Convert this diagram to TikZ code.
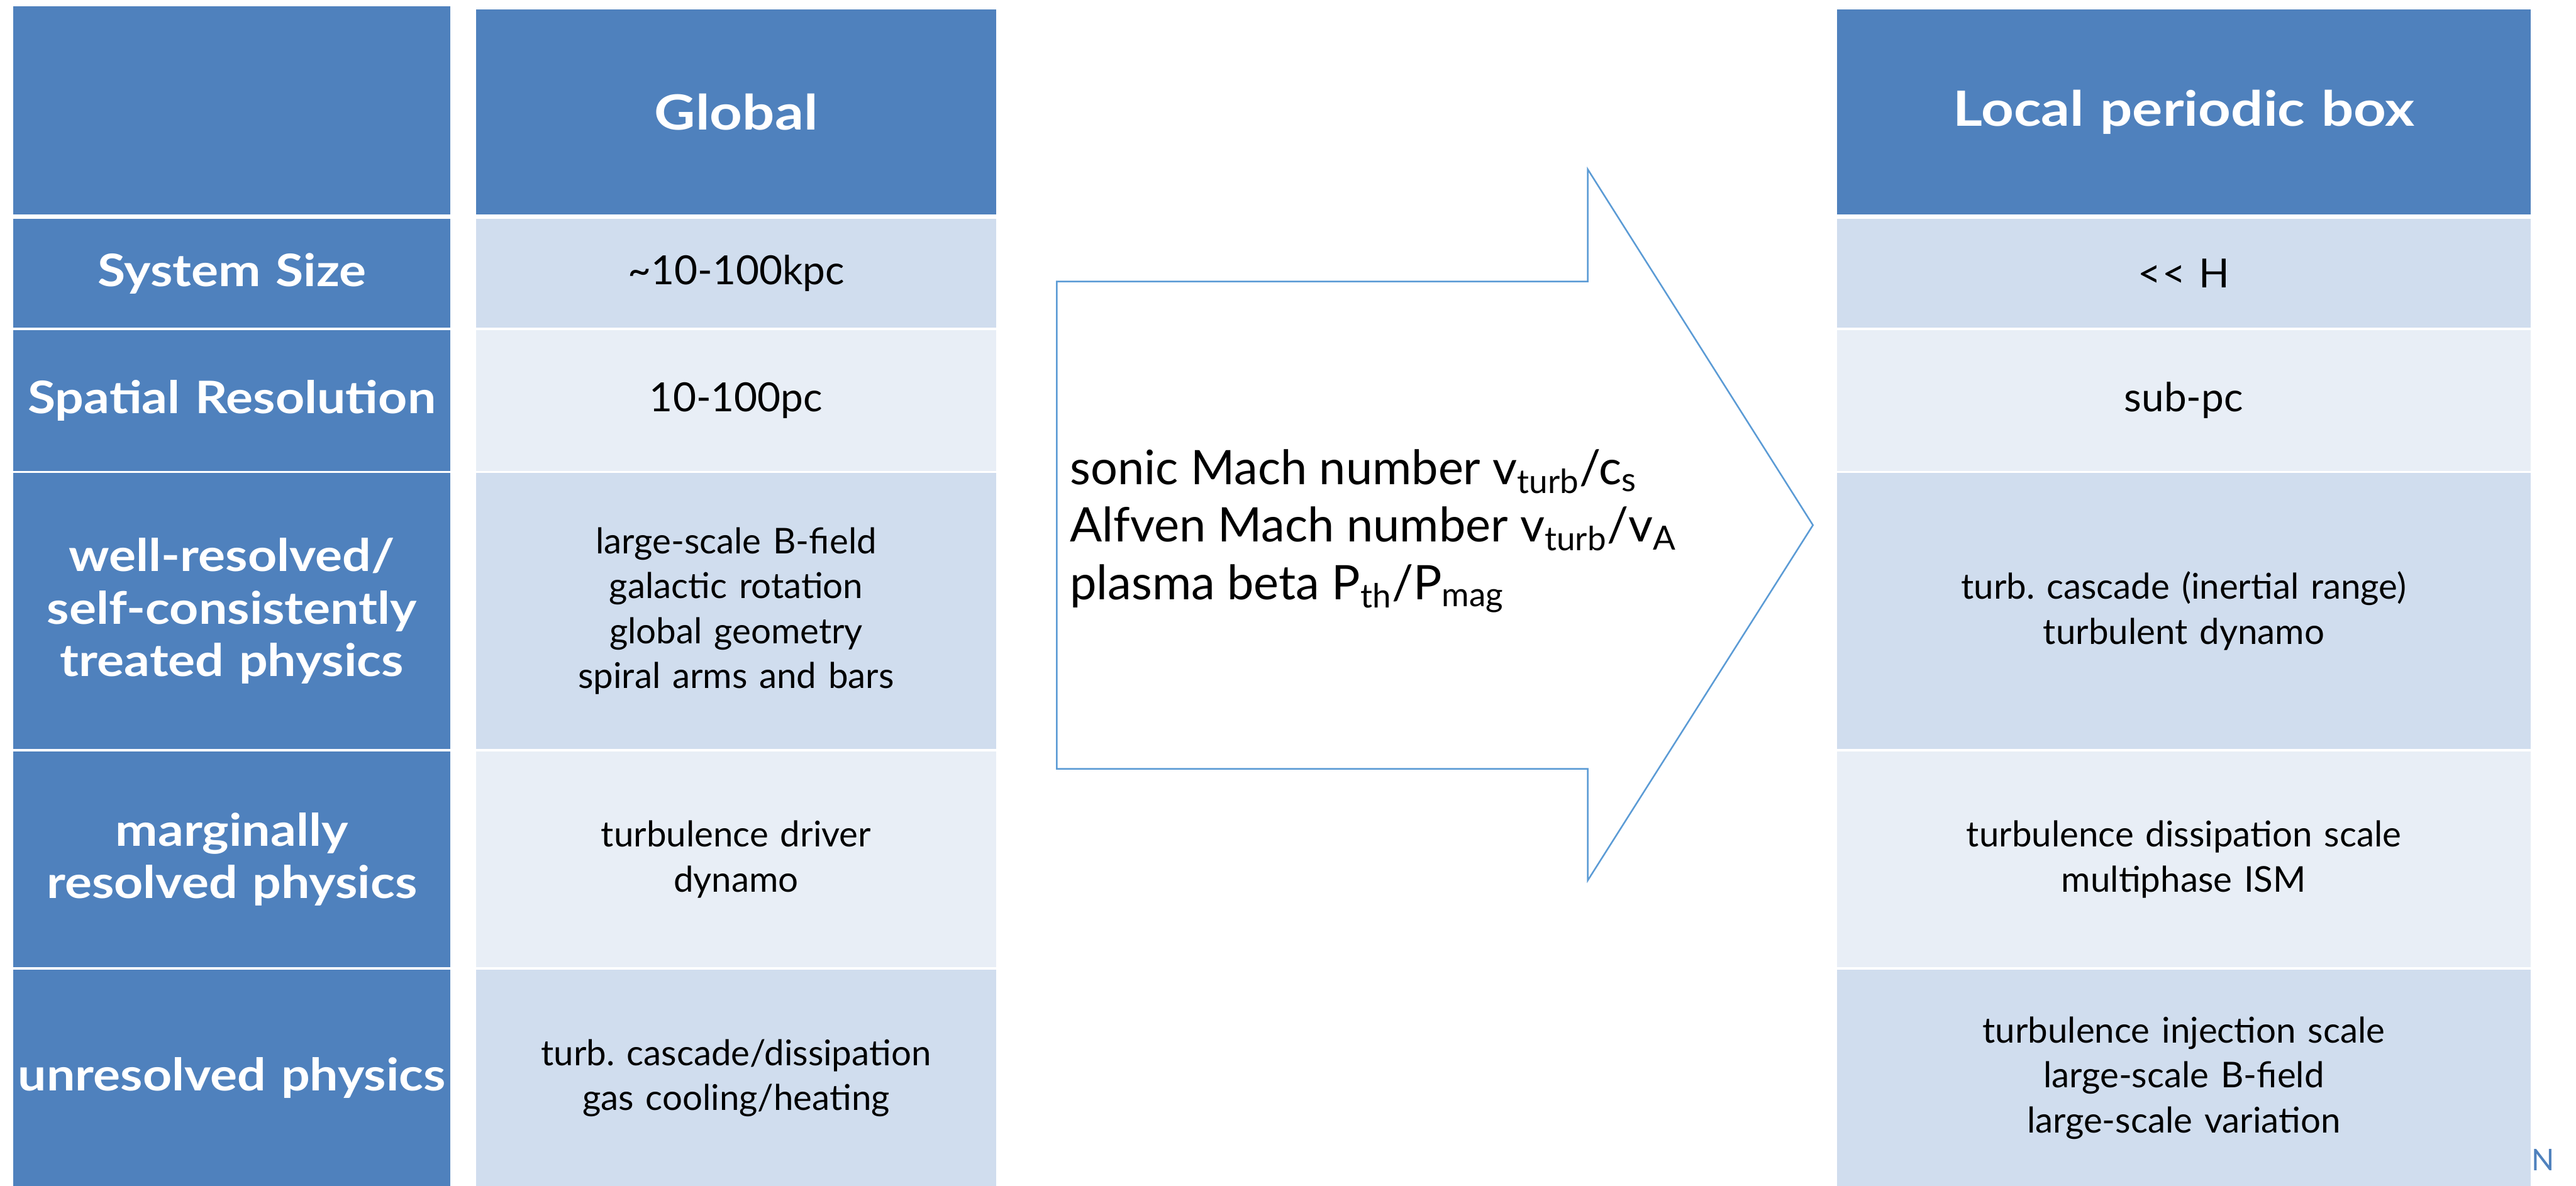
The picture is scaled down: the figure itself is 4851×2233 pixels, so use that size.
\documentclass[tikz,border=0pt]{standalone}
\usepackage{fontspec}
\setmainfont{Lato}
\newfontfamily\labelfont[FakeStretch=1.13]{Lato}
\newfontfamily\headfont[FakeStretch=1.17]{Lato}
\usetikzlibrary{positioning}
\definecolor{hdrblue}{RGB}{79,129,189}
\definecolor{bandA}{RGB}{208,221,238}
\definecolor{bandB}{RGB}{232,238,246}
\definecolor{arrowblue}{RGB}{91,155,213}
\frenchspacing

\begin{document}
\begin{tikzpicture}[x=0.01cm,y=-0.01cm,node distance=0.04cm,
every node/.style={inner sep=0pt,outer sep=0pt},
lcell/.style={fill=hdrblue,text=white,text width=8.23cm,align=center,font=\labelfont\fontsize{24}{28}\selectfont\bfseries},
hcell/.style={fill=hdrblue,text=white,align=center,minimum height=3.86cm,font=\headfont\fontsize{26}{30}\selectfont\bfseries},
gcell/.style={text width=9.78cm,align=center,font=\fontsize{19}{24}\selectfont},
pcell/.style={text width=13.06cm,align=center,font=\fontsize{19}{24}\selectfont},
big/.style={font=\fontsize{21.5}{26}\selectfont}]
\useasboundingbox (0,0) rectangle (4851,2233);

% left column
\node[lcell,minimum height=3.92cm,anchor=north west] (L0) at (25,12) {};
\node[lcell,minimum height=2.05cm] (L1) [below =0.08cm of L0] {System Size};
\node[lcell,minimum height=2.65cm] (L2) [below =of L1] {Spatial Resolution};
\node[lcell,minimum height=5.20cm] (L3) [below =of L2] {well-resolved/\\self-consistently\\treated physics};
\node[lcell,minimum height=4.07cm] (L4) [below =of L3] {marginally\\resolved physics};
\node[lcell,minimum height=4.08cm] (L5) [below =of L4] {unresolved physics};

% global column
\node[hcell,text width=9.78cm,anchor=north west] (G0) at (897,18) {Global};
\node[gcell,big,fill=bandA,minimum height=2.05cm] (G1) [below =0.08cm of G0] {\textasciitilde10-100kpc};
\node[gcell,big,fill=bandB,minimum height=2.65cm] (G2) [below =of G1] {10-100pc};
\node[gcell,fill=bandA,minimum height=5.20cm] (G3) [below =of G2] {large-scale B-field\\galactic rotation\\global geometry\\spiral arms and bars};
\node[gcell,fill=bandB,minimum height=4.07cm] (G4) [below =of G3] {turbulence driver\\dynamo};
\node[gcell,fill=bandA,minimum height=4.08cm] (G5) [below =of G4] {turb. cascade/dissipation\\gas cooling/heating};

% local periodic box column
\node[hcell,text width=13.06cm,anchor=north west] (P0) at (3459,18) {Local periodic box};
\node[pcell,big,fill=bandA,minimum height=2.05cm] (P1) [below =0.08cm of P0] {\textless\kern0.03em\textless\ H};
\node[pcell,big,fill=bandB,minimum height=2.65cm] (P2) [below =of P1] {sub-pc};
\node[pcell,fill=bandA,minimum height=5.20cm] (P3) [below =of P2] {turb. cascade (inertial range)\\turbulent dynamo};
\node[pcell,fill=bandB,minimum height=4.07cm] (P4) [below =of P3] {turbulence dissipation scale\\multiphase ISM};
\node[pcell,fill=bandA,minimum height=4.08cm] (P5) [below =of P4] {turbulence injection scale\\large-scale B-field\\large-scale variation};

% big arrow
\draw[arrowblue,line width=0.85pt,fill=white,line join=miter]
  (1990,530) -- (2990,530) -- (2990,319) -- (3414,989) -- (2990,1658) -- (2990,1448) -- (1990,1448) -- cycle;
\node[anchor=west,align=left,font=\fontsize{25.5}{30.7}\selectfont] (M) at (2015,1000)
  {sonic Mach number v\textsubscript{turb}/c\textsubscript{s}\\
   Alfven Mach number v\textsubscript{turb}/v\textsubscript{A}\\
   plasma beta P\textsubscript{th}/P\textsubscript{mag}};

\node[anchor=base west,text=hdrblue,font=\fontsize{16}{16}\selectfont] (N) at (4768,2205) {N};
\end{tikzpicture}
\end{document}
